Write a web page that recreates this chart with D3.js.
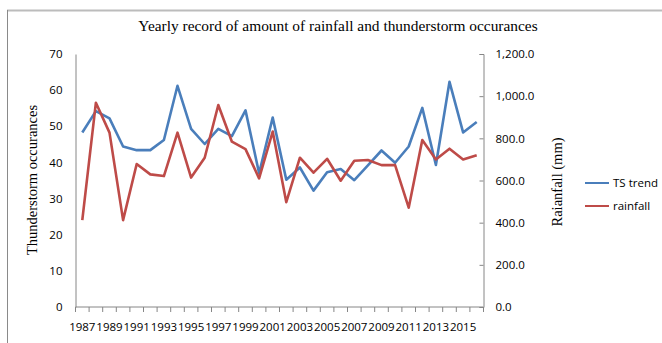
<!DOCTYPE html>
<html><head><meta charset="utf-8">
<script src="https://cdn.jsdelivr.net/npm/d3@7"></script>
<style>body{margin:0;background:#fff}svg{display:block}</style>
</head><body><svg id="c" width="662" height="343"></svg>
<script>
const years = d3.range(1987, 2017).map(String);
const tsTrend = [48.3,54.2,52.2,44.4,43.4,43.4,46.2,61.2,49.3,45.1,49.3,47.3,54.4,37.0,52.4,35.2,38.6,32.2,37.3,38.2,35.1,39.2,43.3,39.9,44.4,55.1,39.3,62.3,48.3,51.2];
const rainfall = [412,969,827,412,678,629,621,827,614,708,958,784,749,610,832,497,708,637,703,599,694,697,673,673,471,792,700,751,700,720];
const leftTicks = [0,10,20,30,40,50,60,70];
const rightTicks = [0,200,400,600,800,1000,1200];
const xLabels = years.filter((d,i)=>i%2===0);

const svg = d3.select("#c");
const m = {l:75.5, r:483.5, t:54, b:307};
const x = d3.scaleBand().domain(years).range([m.l, m.r]);
const yL = d3.scaleLinear().domain([0,70]).range([m.b, m.t]);
const yR = d3.scaleLinear().domain([0,1200]).range([m.b, m.t]);
const font = "'Open Sans', sans-serif";
const serif = "'Liberation Serif', 'Times New Roman', serif";

// outer frame
svg.append("line").attr("x1",7).attr("x2",662).attr("y1",10.5).attr("y2",10.5).attr("stroke","#bcbcbc").attr("stroke-width",2);
svg.append("line").attr("x1",7.5).attr("x2",7.5).attr("y1",10).attr("y2",343).attr("stroke","#8a8a8a").attr("stroke-width",1);

// title
svg.append("text").attr("x",338).attr("y",31).attr("text-anchor","middle")
  .attr("font-family",serif).attr("font-size",15.4).attr("fill","#000")
  .text("Yearly record of amount of rainfall and thunderstorm occurances");

// left axis
const gL = svg.append("g").attr("transform",`translate(${m.l},0)`)
  .call(d3.axisLeft(yL).tickValues(leftTicks).tickSize(0).tickPadding(13).tickFormat(d3.format("d")));
gL.select(".domain").attr("stroke","#868686");
gL.selectAll("text").attr("font-family",font).attr("font-size",11.5).attr("fill","#000");

// right axis
const gR = svg.append("g").attr("transform",`translate(${m.r},0)`)
  .call(d3.axisRight(yR).tickValues(rightTicks).tickSize(-4).tickPadding(12).tickFormat(d3.format(",.1f")));
gR.select(".domain").attr("stroke","#868686");
gR.selectAll(".tick line").attr("stroke","#868686");
gR.selectAll("text").attr("font-family",font).attr("font-size",11.5).attr("fill","#000");

// x axis
const gX = svg.append("g").attr("transform",`translate(0,${m.b})`);
gX.append("line").attr("x1",m.l).attr("x2",m.r).attr("stroke","#868686");
gX.selectAll("line.tk").data(years.concat(["end"])).enter().append("line").attr("class","tk")
  .attr("x1",(d,i)=> i<years.length ? x(d) : m.r).attr("x2",(d,i)=> i<years.length ? x(d) : m.r)
  .attr("y1",0).attr("y2",5).attr("stroke","#868686");
gX.selectAll("text").data(xLabels).enter().append("text")
  .attr("x",d=>x(d)+x.bandwidth()/2).attr("y",24).attr("text-anchor","middle")
  .attr("font-family",font).attr("font-size",11.5).attr("fill","#000").text(d=>d);

// axis titles
svg.append("text").attr("transform","translate(37,180) rotate(-90)").attr("text-anchor","middle")
  .attr("font-family",serif).attr("font-size",14.5).attr("fill","#000").text("Thunderstorm occurances");
svg.append("text").attr("transform","translate(562,182) rotate(-90)").attr("text-anchor","middle")
  .attr("font-family",serif).attr("font-size",14.5).attr("fill","#000").text("Raianfall (mm)");

// lines
const cx = d=>x(d)+x.bandwidth()/2;
const lineL = d3.line().x((d,i)=>cx(years[i])).y(d=>yL(d));
const lineR = d3.line().x((d,i)=>cx(years[i])).y(d=>yR(d));
svg.append("path").datum(tsTrend).attr("d",lineL).attr("fill","none").attr("stroke","#4a7ebb").attr("stroke-width",2.6).attr("stroke-linejoin","round");
svg.append("path").datum(rainfall).attr("d",lineR).attr("fill","none").attr("stroke","#be4b48").attr("stroke-width",2.6).attr("stroke-linejoin","round");

// legend
const legend = [{name:"TS trend", color:"#4a7ebb", y:183},{name:"rainfall", color:"#be4b48", y:206}];
const lg = svg.append("g");
legend.forEach(l=>{
  lg.append("line").attr("x1",585).attr("x2",609).attr("y1",l.y).attr("y2",l.y).attr("stroke",l.color).attr("stroke-width",2);
  lg.append("text").attr("x",613).attr("y",l.y+4).attr("font-family",font).attr("font-size",11.5).attr("fill","#000").text(l.name);
});
</script></body></html>
